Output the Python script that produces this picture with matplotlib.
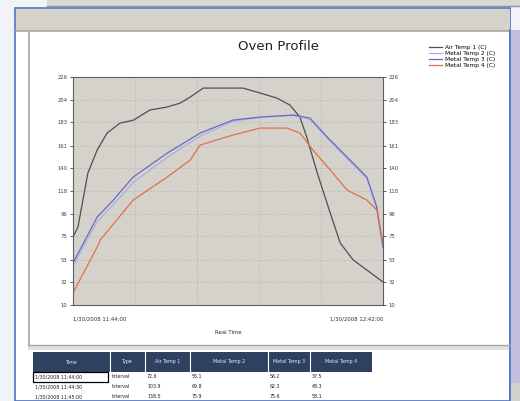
import matplotlib
matplotlib.use('Agg')
import matplotlib.pyplot as plt
from matplotlib.patches import Rectangle

# Series (x = elapsed units, 0..50 spans 11:44 -> 12:42)
air_t = [0, 0.8, 1.6, 2.4, 3.9, 5.5, 7.6, 9.7, 12.4, 15.2, 17.3, 18.9, 21.0, 27.4,
         30.2, 32.9, 35.0, 36.6, 37.7, 39.4, 41.5, 43.1, 45.2, 47.4, 50]
air_v = [74.4, 83.9, 109.4, 135.0, 156.8, 172.9, 182.4, 185.0, 194.7, 197.6, 201.3, 207.0,
         215.5, 215.5, 210.8, 206.0, 199.4, 188.0, 169.0, 135.0, 97.0, 68.7, 52.6, 43.1, 31.8]

metal_t = [0, 3.9, 6.5, 9.7, 15.2, 20.5, 25.8, 30.2, 35.5, 38.2, 41.0, 44.2, 47.4, 49.0, 50]
metal2_v = [47.0, 89.0, 105.0, 126.0, 150.0, 170.0, 184.0, 188.0, 189.5, 186.0, 168.0,
            149.0, 130.0, 101.0, 63.0]
metal3_v = [49.8, 93.3, 109.4, 131.2, 153.9, 172.9, 185.2, 188.0, 190.0, 187.1, 169.1,
            150.2, 131.2, 102.8, 64.9]

metal4_t = [0, 3.9, 4.4, 9.7, 15.2, 18.9, 20.5, 25.8, 30.2, 34.5, 36.6, 38.7, 41.5,
            44.2, 47.4, 49.0, 50]
metal4_v = [21.4, 64.9, 71.6, 109.4, 131.2, 147.3, 161.5, 171.0, 177.6, 177.6, 172.9,
            156.8, 137.8, 118.9, 109.4, 100.0, 68.7]

y_ticks = [10, 32, 53, 75, 96, 118, 140, 161, 183, 204, 226]
x_labels = ['1/30/2008 11:44:00', '1/30/2008 12:42:00']
series_names = ['Air Temp 1 (C)', 'Metal Temp 2 (C)', 'Metal Temp 3 (C)', 'Metal Temp 4 (C)']

table_cols = ['Time', 'Type', 'Air Temp 1', 'Metal Temp 2', 'Metal Temp 3', 'Metal Temp 4']
table_rows = [
    ['1/30/2008 11:44:00', 'Interval', '72.6', '55.1', '56.2', '37.5'],
    ['1/30/2008 11:44:30', 'Interval', '103.9', '69.8', '62.3', '48.3'],
    ['1/30/2008 11:45:00', 'Interval', '138.5', '75.9', '75.6', '58.1'],
]

W, H = 520, 401
fig = plt.figure(figsize=(W / 100, H / 100), dpi=100)
fig.patch.set_facecolor('#f2f3f6')

# window chrome drawn in pixel coordinates
bg = fig.add_axes([0, 0, 1, 1])
bg.set_xlim(0, W)
bg.set_ylim(H, 0)
bg.axis('off')

def box(x0, y0, x1, y1, fc, ec='none', lw=0):
    bg.add_patch(Rectangle((x0, y0), x1 - x0, y1 - y0, facecolor=fc, edgecolor=ec, linewidth=lw))

box(47, 0, 520, 6, '#dad8d2')
bg.plot([47, 520], [6, 6], color='#8a96b0', lw=1)
box(15, 8, 510, 401, '#ffffff', '#4a74c4', 1.2)
box(16, 9, 510, 31, '#d6d2ca')
bg.plot([16, 510], [31, 31], color='#a9a7a2', lw=1.2)
box(510, 30, 520, 383, '#c2bee0')
box(510, 383, 520, 401, '#d2d0cc')
bg.plot([510, 510], [30, 401], color='#4a74c4', lw=1.2)
box(28, 32, 30, 345, '#b4b4b4')
box(28, 345, 510, 350, '#e2e2e2')
bg.plot([28, 510], [345, 345], color='#a8a8a8', lw=1)

# table at the bottom
col_x = [33, 110, 145, 190, 268, 310, 372]
box(33, 352, 372, 372, '#2e4260')
for i, name in enumerate(table_cols):
    if i > 0:
        bg.plot([col_x[i], col_x[i]], [352, 372], color='#ffffff', lw=0.8)
    bg.text((col_x[i] + col_x[i + 1]) / 2, 362, name, color='#e8ecf4', fontsize=3.4,
            ha='center', va='center')
for r, row in enumerate(table_rows):
    yc = 377 + r * 10
    for i, val in enumerate(row):
        bg.text(col_x[i] + 2, yc, val, color='#202020', fontsize=3.4, ha='left', va='center')
bg.add_patch(Rectangle((33, 372), 75, 10, facecolor='none', edgecolor='#000000', linewidth=0.9))

bg.text(278, 46, 'Oven Profile', fontsize=9.5, ha='center', va='center', color='#202020')

# chart
ax = fig.add_axes([73 / W, 1 - 305 / H, 310 / W, 228 / H])
ax.set_facecolor('#d5d2cc')
ax.plot(air_t, air_v, color='#505050', lw=0.9, label=series_names[0])
ax.plot(metal_t, metal2_v, color='#a8b0e4', lw=0.9, label=series_names[1])
ax.plot(metal_t, metal3_v, color='#6a6ac4', lw=0.9, label=series_names[2])
ax.plot(metal4_t, metal4_v, color='#e0704c', lw=0.9, label=series_names[3])
ax.set_xlim(0, 50)
ax.set_ylim(y_ticks[0], y_ticks[-1])
ax.set_yticks(y_ticks)
ax.set_xticks([10, 20, 30, 40])
ax.set_xticklabels([])
ax.tick_params(axis='x', length=0)
ax.grid(True, color='#bdb9b2', linestyle=(0, (2, 2)), lw=0.6)
ax.tick_params(axis='y', labelsize=3.8, length=2, width=0.6, colors='#404040', pad=2)
for s in ax.spines.values():
    s.set_color('#606060')
    s.set_linewidth(0.8)
ax2 = ax.twinx()
ax2.set_ylim(y_ticks[0], y_ticks[-1])
ax2.set_yticks(y_ticks)
ax2.tick_params(axis='y', labelsize=3.8, length=2, width=0.6, colors='#404040', pad=2)
for s in ax2.spines.values():
    s.set_visible(False)

ax.text(0, -0.06, x_labels[0], transform=ax.transAxes, fontsize=3.9, ha='left', va='center', color='#303030')
ax.text(1, -0.06, x_labels[1], transform=ax.transAxes, fontsize=3.9, ha='right', va='center', color='#303030')
ax.text(0.5, -0.12, 'Real Time', transform=ax.transAxes, fontsize=3.9, ha='center', va='center', color='#303030')

fig.legend(loc='upper left', bbox_to_anchor=(426 / W, 1 - 42 / H), fontsize=4.2, frameon=False,
           handlelength=2.2, handletextpad=0.5, labelspacing=0.15, borderpad=0)

fig.savefig('out.png', dpi=100, facecolor=fig.get_facecolor())
